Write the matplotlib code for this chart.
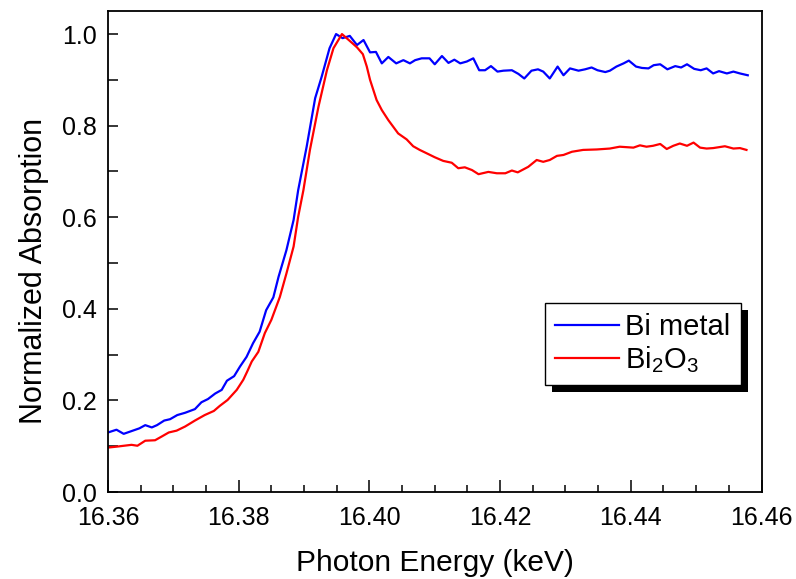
import matplotlib
matplotlib.use("Agg")
import matplotlib.pyplot as plt
from matplotlib.patches import Rectangle
from matplotlib.ticker import MultipleLocator

plt.rcParams['font.family'] = ['Liberation Sans', 'DejaVu Sans']
plt.rcParams['mathtext.fontset'] = 'custom'
plt.rcParams['mathtext.rm'] = 'Liberation Sans'
plt.rcParams['mathtext.it'] = 'Liberation Sans'

energy_bi = [16.3600, 16.3613, 16.3624, 16.3636, 16.3648, 16.3657, 16.3667, 16.3675, 16.3686, 16.3695,
             16.3706, 16.3718, 16.3733, 16.3743, 16.3753, 16.3764, 16.3774, 16.3782, 16.3793, 16.3802,
             16.3812, 16.3822, 16.3832, 16.3842, 16.3853, 16.3861, 16.3873, 16.3884, 16.3891, 16.3904,
             16.3917, 16.3927, 16.3939, 16.3949, 16.3959, 16.3970, 16.3981, 16.3991, 16.4001, 16.4010,
             16.4019, 16.4029, 16.4041, 16.4052, 16.4062, 16.4070, 16.4080, 16.4092, 16.4100, 16.4111,
             16.4121, 16.4130, 16.4139, 16.4149, 16.4159, 16.4168, 16.4177, 16.4186, 16.4196, 16.4205,
             16.4218, 16.4228, 16.4237, 16.4248, 16.4258, 16.4266, 16.4276, 16.4288, 16.4297, 16.4307,
             16.4320, 16.4330, 16.4340, 16.4349, 16.4361, 16.4368, 16.4378, 16.4389, 16.4397, 16.4408,
             16.4417, 16.4427, 16.4435, 16.4445, 16.4456, 16.4468, 16.4477, 16.4486, 16.4497, 16.4507,
             16.4516, 16.4526, 16.4535, 16.4547, 16.4557, 16.4567, 16.4579]
abs_bi = [0.130, 0.136, 0.127, 0.133, 0.139, 0.146, 0.141, 0.146, 0.156, 0.159,
          0.168, 0.173, 0.181, 0.196, 0.203, 0.215, 0.223, 0.243, 0.253, 0.274,
          0.295, 0.325, 0.350, 0.397, 0.425, 0.470, 0.528, 0.594, 0.659, 0.754,
          0.860, 0.907, 0.969, 1.000, 0.991, 0.996, 0.976, 0.987, 0.960, 0.961,
          0.936, 0.950, 0.936, 0.943, 0.936, 0.943, 0.947, 0.947, 0.934, 0.952,
          0.937, 0.944, 0.936, 0.940, 0.947, 0.921, 0.921, 0.930, 0.918, 0.920,
          0.921, 0.913, 0.903, 0.920, 0.923, 0.918, 0.903, 0.929, 0.910, 0.925,
          0.920, 0.923, 0.927, 0.921, 0.917, 0.920, 0.929, 0.936, 0.942, 0.929,
          0.926, 0.925, 0.932, 0.934, 0.923, 0.930, 0.927, 0.934, 0.924, 0.921,
          0.925, 0.914, 0.919, 0.914, 0.918, 0.914, 0.910]

energy_ox = [16.3600, 16.3613, 16.3636, 16.3645, 16.3657, 16.3672, 16.3682, 16.3693, 16.3705, 16.3718,
             16.3733, 16.3748, 16.3762, 16.3771, 16.3783, 16.3797, 16.3807, 16.3813, 16.3820, 16.3830,
             16.3840, 16.3850, 16.3863, 16.3873, 16.3884, 16.3891, 16.3899, 16.3909, 16.3922, 16.3935,
             16.3945, 16.3958, 16.3970, 16.3981, 16.3990, 16.3996, 16.4001, 16.4011, 16.4019, 16.4029,
             16.4044, 16.4057, 16.4067, 16.4077, 16.4090, 16.4100, 16.4113, 16.4126, 16.4136, 16.4146,
             16.4157, 16.4167, 16.4182, 16.4195, 16.4208, 16.4218, 16.4227, 16.4243, 16.4256, 16.4266,
             16.4276, 16.4287, 16.4297, 16.4310, 16.4327, 16.4348, 16.4368, 16.4383, 16.4404, 16.4414,
             16.4424, 16.4434, 16.4445, 16.4455, 16.4465, 16.4475, 16.4486, 16.4496, 16.4506, 16.4516,
             16.4526, 16.4544, 16.4557, 16.4567, 16.4577]
abs_ox = [0.097, 0.099, 0.103, 0.101, 0.112, 0.113, 0.121, 0.130, 0.134, 0.143,
          0.156, 0.168, 0.177, 0.188, 0.201, 0.223, 0.245, 0.263, 0.285, 0.306,
          0.347, 0.376, 0.426, 0.477, 0.536, 0.601, 0.659, 0.747, 0.841, 0.921,
          0.969, 1.000, 0.985, 0.971, 0.956, 0.929, 0.900, 0.856, 0.834, 0.812,
          0.783, 0.770, 0.755, 0.747, 0.738, 0.731, 0.723, 0.719, 0.707, 0.709,
          0.703, 0.694, 0.699, 0.696, 0.696, 0.702, 0.698, 0.710, 0.725, 0.721,
          0.725, 0.734, 0.736, 0.743, 0.747, 0.748, 0.750, 0.754, 0.752, 0.757,
          0.754, 0.756, 0.760, 0.749, 0.756, 0.761, 0.756, 0.763, 0.752, 0.750,
          0.751, 0.755, 0.750, 0.751, 0.747]

series_labels = ['Bi metal', 'Bi$_2$O$_3$']
x_ticks = [16.36, 16.38, 16.40, 16.42, 16.44, 16.46]
x_tick_labels = ['16.36', '16.38', '16.40', '16.42', '16.44', '16.46']
y_ticks = [0.0, 0.2, 0.4, 0.6, 0.8, 1.0]
y_tick_labels = ['0.0', '0.2', '0.4', '0.6', '0.8', '1.0']

W, H = 796, 579
fig = plt.figure(figsize=(W / 100, H / 100), dpi=100)
ax = fig.add_axes([108 / W, 1 - 492 / H, (761.5 - 108) / W, (492 - 10.7) / H])

ax.plot(energy_bi, abs_bi, color='#0000ff', lw=1.6, label=series_labels[0])
ax.plot(energy_ox, abs_ox, color='#ff0000', lw=1.6, label=series_labels[1])

ax.set_xlim(16.36, 16.46)
ax.set_ylim(0.0, 1.051)
ax.set_xticks(x_ticks)
ax.set_xticklabels(x_tick_labels)
ax.set_yticks(y_ticks)
ax.set_yticklabels(y_tick_labels)
ax.xaxis.set_minor_locator(MultipleLocator(0.005))
ax.yaxis.set_minor_locator(MultipleLocator(0.1))

ax.tick_params(which='both', direction='in', top=False, right=False, labelsize=18, width=1.1)
ax.tick_params(axis='x', which='both', pad=10)
ax.tick_params(axis='y', which='both', pad=8)
ax.tick_params(axis='x', which='major', length=8.6)
ax.tick_params(axis='x', which='minor', length=5)
ax.tick_params(axis='y', which='both', length=7.5)
for s in ax.spines.values():
    s.set_linewidth(1.3)

ax.set_xlabel('Photon Energy (keV)', fontsize=21.5, labelpad=14)
ax.set_ylabel('Normalized Absorption', fontsize=22)
ax.yaxis.set_label_coords(-0.09, 0.459)

leg = ax.legend(loc='upper left', bbox_to_anchor=(545 / W, 1 - 302.7 / H),
                bbox_transform=fig.transFigure, borderaxespad=0, fontsize=21,
                handlelength=2.2, handletextpad=0.2, borderpad=0.35, labelspacing=0.12,
                fancybox=False, framealpha=1, edgecolor='black')
leg.get_frame().set_linewidth(1.0)
for h in leg.get_lines():
    h.set_linewidth(1.6)

fig.canvas.draw()
bb = leg.get_window_extent()
inv = fig.transFigure.inverted()
(x0, y0) = inv.transform((bb.x0 + 7, bb.y0 - 7))
(x1, y1) = inv.transform((bb.x1 + 7, bb.y1 - 7))
shadow = Rectangle((x0, y0), x1 - x0, y1 - y0, transform=fig.transFigure,
                   facecolor='black', edgecolor='none', zorder=4.5, clip_on=False)
ax.add_artist(shadow)

fig.savefig('out.png', dpi=100)
